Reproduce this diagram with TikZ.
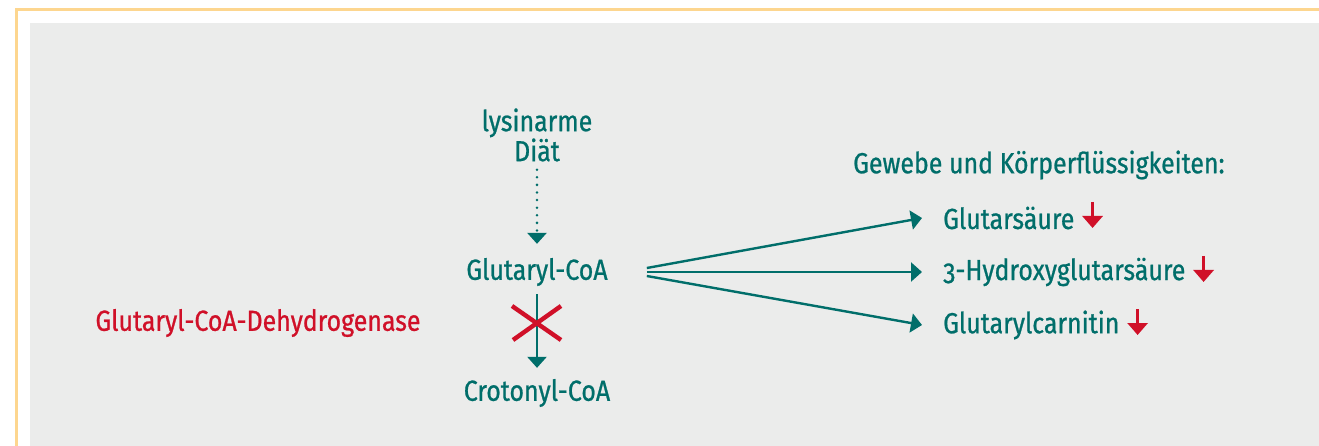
\documentclass[tikz,border=0pt]{standalone}
\usepackage{fontspec}
\setmainfont[FakeStretch=0.86,FakeBold=0.8,Numbers=OldStyle]{Fira Sans}
\usepackage{tikz}
\usetikzlibrary{arrows.meta}
\definecolor{teal}{RGB}{0,110,106}
\definecolor{dred}{RGB}{208,16,40}
\definecolor{bggray}{RGB}{235,236,235}
\definecolor{frameorange}{RGB}{253,214,143}

\begin{document}
\begin{tikzpicture}
    [x=1pt,y=-1pt, line cap=butt, line join=miter,
     txt/.style={text=teal,inner sep=0pt,font=\fontsize{29}{30}\selectfont},
     flow/.style={draw=teal,line width=2.4pt,-{Triangle[length=11pt,width=19pt]}},
     down/.style={draw=dred,line width=3pt,-{Triangle[length=12pt,width=20pt]}}]
%background and frame
\useasboundingbox (0,0) rectangle (1319,446);
\fill[white] (0,0) rectangle (1319,446);
\fill[bggray] (30,23) rectangle (1319,446);
\draw[frameorange,line width=3pt] (16,446) -- (16,10) -- (1319,10);

%main column
\node[txt,align=center] (diet) at (537,135) {lysinarme\\Diät};
\node[txt] (glut) at (537,272) {Glutaryl-CoA};
\node[txt] (crot) at (537,393) {Crotonyl-CoA};
\node[txt,text=dred] (enz) at (258,323) {Glutaryl-CoA-Dehydrogenase};

\draw[flow,dash pattern=on 0pt off 7.6pt,line cap=round,line width=2.8pt] ([yshift=-8pt]diet.south) -- ([yshift=14pt]glut.north);
\draw[flow] ([yshift=-8pt]glut.south) -- ([yshift=11pt]crot.north);
%blocked step
\draw[dred,line width=4.4pt] (512,306) -- (561,340)
                             (561,306) -- (513,340);

%body fluids
\node[txt,anchor=west] (tis) at (853,165) {Gewebe und Körperflüssigkeiten:};
\node[txt,anchor=west] (ga) at (943,218) {Glutarsäure};
\node[txt,anchor=west] (hga) at (943,272) {3-Hydroxyglutarsäure};
\node[txt,anchor=west] (gc) at (943,325) {Glutarylcarnitin};

\draw[flow] ([xshift=39pt,yshift=4pt]glut.east) -- ([xshift=-21pt]ga.west);
\draw[flow] ([xshift=39pt]glut.east) -- ([xshift=-21pt]hga.west);
\draw[flow] ([xshift=39pt,yshift=-4pt]glut.east) -- ([xshift=-21pt]gc.west);

\draw[down] ([xshift=18pt,yshift=16pt]ga.east) -- ([xshift=18pt,yshift=-10pt]ga.east);
\draw[down] ([xshift=18pt,yshift=16pt]hga.east) -- ([xshift=18pt,yshift=-10pt]hga.east);
\draw[down] ([xshift=18pt,yshift=16pt]gc.east) -- ([xshift=18pt,yshift=-10pt]gc.east);
 \end{tikzpicture}
\end{document}
